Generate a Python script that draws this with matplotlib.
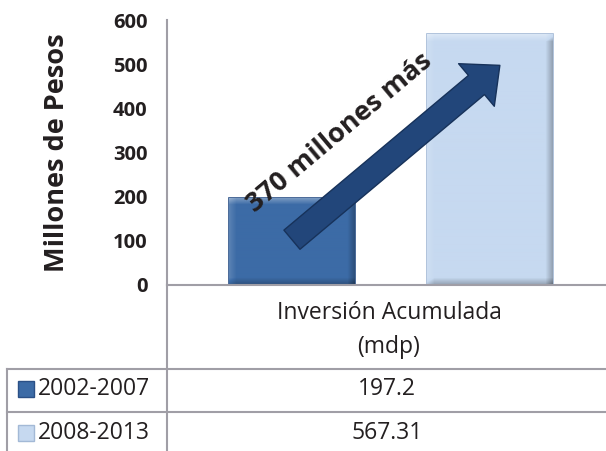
import numpy as np
import matplotlib
matplotlib.use("Agg")
import matplotlib.pyplot as plt
from matplotlib.lines import Line2D
from matplotlib.patches import Rectangle, FancyArrowPatch, ArrowStyle
from matplotlib.colors import to_rgb

# data
periods = ["2002-2007", "2008-2013"]
values = [197.2, 567.31]
value_labels = ["197.2", "567.31"]
category = "Inversión Acumulada\n(mdp)"
yticks = [0, 100, 200, 300, 400, 500, 600]
arrow_note = "370 millones más"

face_cols = ["#3c6ba6", "#c6d9f0"]
edge_cols = ["#2b5086", "#a3b9d6"]
grid_col = "#a09ea6"
txt_col = "#231f20"

plt.rcParams['font.family'] = ['Open Sans', 'DejaVu Sans']

W, H = 606, 451
fig = plt.figure(figsize=(W / 100, H / 100), dpi=100)

def fx(px):
    return px / W

def fy(py):
    return 1 - py / H

ax = fig.add_axes([fx(167), fy(285), fx(606) - fx(167), fy(20) - fy(285)])

pos = np.arange(len(values))
bar_w = 0.636
bars = ax.bar(pos, values, width=bar_w, color=face_cols, edgecolor=edge_cols, linewidth=1.2, zorder=2)
ax.set_xlim(-0.631, 1.586)
ax.set_ylim(0, 600)


def bevel(color, nx, ny, b=7):
    # simple bevel look: light top/left, dark right/bottom
    base = np.array(to_rgb(color))
    u = np.arange(nx)[None, :] * np.ones((ny, 1))
    v = np.arange(ny)[:, None] * np.ones((1, nx))
    f = np.zeros((ny, nx))
    f += np.clip(1 - v / b, 0, 1) * 0.35
    f += np.clip(1 - u / b, 0, 1) * 0.15
    f -= np.clip(1 - (nx - 1 - u) / b, 0, 1) * 0.25
    f -= np.clip(1 - (ny - 1 - v) / b, 0, 1) * 0.25
    img = np.empty((ny, nx, 3))
    for k in range(3):
        c = base[k]
        img[..., k] = np.where(f > 0, c + (1 - c) * f, c * (1 + f))
    return np.clip(img, 0, 1)


for i, bar in enumerate(bars):
    x0, y0 = bar.get_x(), bar.get_y()
    w, h = bar.get_width(), bar.get_height()
    img = bevel(face_cols[i], 126, max(int(h * 265 / 600), 2))
    im = ax.imshow(img, extent=[x0, x0 + w, y0, y0 + h], aspect='auto', zorder=2.5,
                   interpolation='bilinear')
    im.set_clip_path(bar)

ax.set_yticks(yticks)
ax.set_yticklabels([str(t) for t in yticks], fontsize=14.5, fontweight='bold', color=txt_col)
ax.tick_params(axis='y', length=0, pad=14)
ax.set_xticks([])
for s in ['top', 'right']:
    ax.spines[s].set_visible(False)
for s in ['left', 'bottom']:
    ax.spines[s].set_color(grid_col)
    ax.spines[s].set_linewidth(1.5)

fig.text(fx(57), fy(153), "Millones de Pesos", rotation=90, fontsize=19.5, fontweight='bold',
         ha='center', va='center', color=txt_col)

# arrow from small bar up to big bar
arr = FancyArrowPatch((0.0, values[0] * 0.52), (1.05, values[1] - 70),
                      arrowstyle=ArrowStyle.Simple(head_length=22, head_width=40, tail_width=18),
                      mutation_scale=1, facecolor="#22467a", edgecolor="#17325a", linewidth=1,
                      shrinkA=0, shrinkB=0, zorder=5)
ax.add_patch(arr)
ax.text(0.24, 345, arrow_note, rotation=40, fontsize=19.5, fontweight='bold', color=txt_col,
        ha='center', va='center', rotation_mode='anchor', zorder=6)

# table below the chart
def hline(y, x0, x1):
    fig.add_artist(Line2D([fx(x0), fx(x1)], [fy(y), fy(y)], color=grid_col, lw=1.5))

def vline(x, y0, y1):
    fig.add_artist(Line2D([fx(x), fx(x)], [fy(y0), fy(y1)], color=grid_col, lw=1.5))

vline(167, 285, 451)
vline(7, 369, 451)
hline(369, 7, 606)
hline(412, 7, 606)

fig.text(fx(389), fy(330), category, fontsize=16.5, ha='center', va='center',
         color=txt_col, linespacing=1.55)

row_y = [389, 433]
for i, (p, v) in enumerate(zip(periods, value_labels)):
    sw = Rectangle((fx(18), fy(row_y[i] + 8)), fx(16), 16 / H,
                   facecolor=face_cols[i], edgecolor=edge_cols[i], lw=1)
    fig.add_artist(sw)
    fig.text(fx(38), fy(row_y[i]), p, fontsize=16.5, ha='left', va='center', color=txt_col)
    fig.text(fx(387), fy(row_y[i]), v, fontsize=16.5, ha='center', va='center', color=txt_col)

fig.savefig("out.png", dpi=100)
